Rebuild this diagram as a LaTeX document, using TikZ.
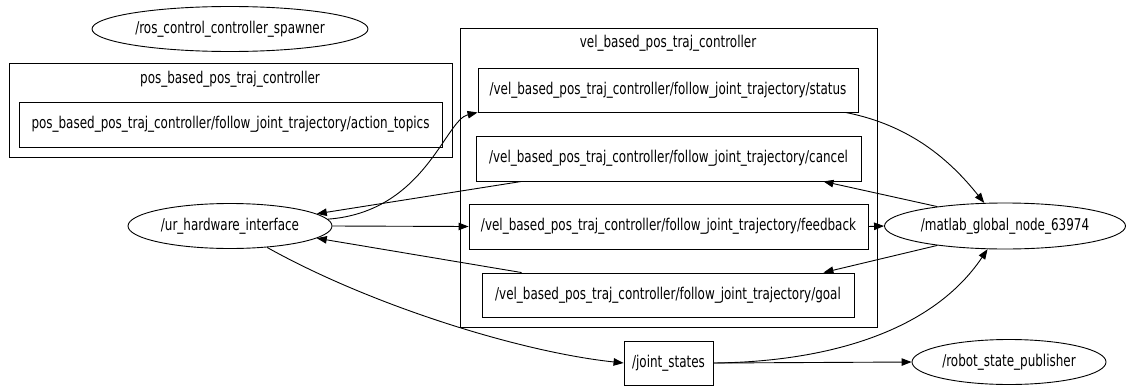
\documentclass[tikz,border=0pt]{standalone}
\usepackage{fontspec}
\usepackage{graphicx}
\setmainfont{DejaVu Sans Condensed}
\usetikzlibrary{arrows.meta,shapes.geometric,calc}

% labels are set slightly taller than the condensed face
\newcommand{\tall}[1]{\scalebox{1}[1.22]{#1}}

\tikzset{
  every picture/.style={x=1pt,y=-1pt},
  base/.style={draw=black,line width=0.9pt,font=\fontsize{13.3}{15}\selectfont,inner sep=0pt},
  rosnode/.style={base,ellipse},
  topic/.style={base,rectangle},
  cluster/.style={draw=black,line width=0.9pt},
  clabel/.style={font=\fontsize{13.3}{15}\selectfont,inner sep=0pt},
  edge/.style={draw=black,line width=0.9pt,-{Triangle[length=10pt,width=7.5pt]}},
}

\begin{document}
\begin{tikzpicture}
\useasboundingbox (0,0) rectangle (1126,388);

% clusters
\draw[cluster] (9,63) rectangle (452,157);
\node[clabel] (poslbl) at (230,79) {\tall{pos\_based\_pos\_traj\_controller}};
\draw[cluster] (460,28) rectangle (877,327);
\node[clabel] (vellbl) at (668,43) {\tall{vel\_based\_pos\_traj\_controller}};

% ROS nodes
\node[rosnode,minimum width=276pt,minimum height=45pt] (spawner) at (230,29) {\tall{/ros\_control\_controller\_spawner}};
\node[rosnode,minimum width=204pt,minimum height=45pt] (ur) at (230,226) {\tall{/ur\_hardware\_interface}};
\node[rosnode,minimum width=241pt,minimum height=46pt] (matlab) at (1005,226) {\tall{/matlab\_global\_node\_63974}};
\node[rosnode,minimum width=194pt,minimum height=45pt] (rsp) at (1009,362) {\tall{/robot\_state\_publisher}};

% topics
\node[topic,minimum width=423pt,minimum height=45pt] (action) at (230.5,124.5) {\tall{pos\_based\_pos\_traj\_controller/follow\_joint\_trajectory/action\_topics}};
\node[topic,minimum width=380pt,minimum height=44pt] (status) at (668,90) {\tall{/vel\_based\_pos\_traj\_controller/follow\_joint\_trajectory/status}};
\node[topic,minimum width=385pt,minimum height=45pt] (cancel) at (668.5,158.5) {\tall{/vel\_based\_pos\_traj\_controller/follow\_joint\_trajectory/cancel}};
\node[topic,minimum width=399pt,minimum height=45pt] (feedback) at (668.5,226.5) {\tall{/vel\_based\_pos\_traj\_controller/follow\_joint\_trajectory/feedback}};
\node[topic,minimum width=372pt,minimum height=44pt] (goal) at (668,295) {\tall{/vel\_based\_pos\_traj\_controller/follow\_joint\_trajectory/goal}};
\node[topic,minimum width=89pt,minimum height=44pt] (joint) at (668.5,363) {\tall{/joint\_states}};

% edge end points on the box borders
\coordinate (cs) at ($(cancel.south west)+(46,0)$);
\coordinate (ce) at ($(cancel.south east)+(-38,0)$);
\coordinate (gn) at ($(goal.north west)+(40,0)$);
\coordinate (ge) at ($(goal.north east)+(-31,0)$);
\coordinate (ss) at ($(status.south east)+(-13,0)$);

% connectors
\draw[edge] (ur.4) .. controls (425,212) and (445,120) .. (status.south west);
\draw[edge] (cs) -- (ur.8.7);
\draw[edge] (ur.east) -- (feedback.west);
\draw[edge] (gn) -- (ur.-8.7);
\draw[edge] (ur.-30) .. controls (370,305) and (520,352) .. (joint.west);
\draw[edge] (ss) .. controls (910,125) and (950,160) .. (matlab.132);
\draw[edge] (matlab.164) -- (ce);
\draw[edge] (feedback.east) -- (matlab.west);
\draw[edge] (matlab.196) -- (ge);
\draw[edge] (joint.east) .. controls (820,362) and (930,335) .. (matlab.233);
\draw[edge] (joint.east) -- (rsp.west);
\end{tikzpicture}
\end{document}
